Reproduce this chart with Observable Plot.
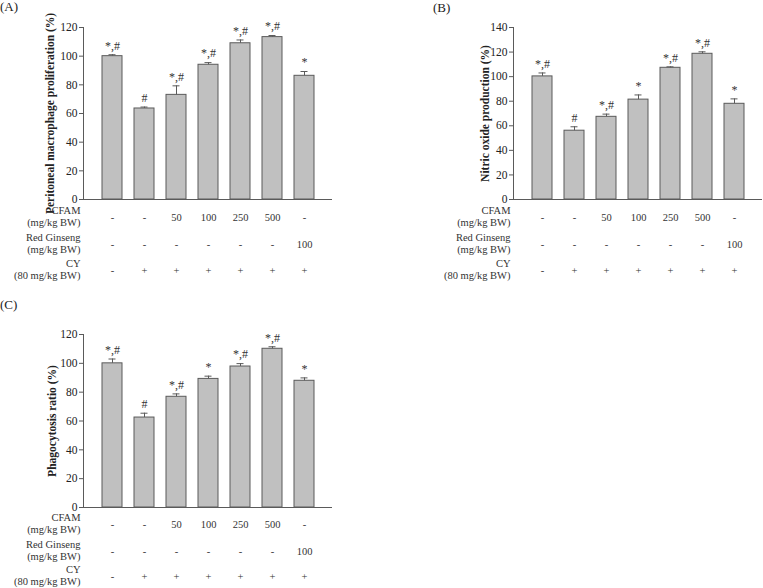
<!DOCTYPE html>
<html>
<head>
<meta charset="utf-8">
<script src="https://cdn.jsdelivr.net/npm/d3@7"></script>
<script src="https://cdn.jsdelivr.net/npm/@observablehq/plot@0.6"></script>
<style>
  body { margin: 0; background: #fff; }
  #root { position: relative; width: 763px; height: 588px; font-family: "Liberation Serif", "Times New Roman", serif; color: #222; }
  .panel { position: absolute; }
  .plabel { position: absolute; font-size: 13px; line-height: 13px; }
</style>
</head>
<body>
<div id="root">
  <div class="plabel" style="left:0px;top:0px;">(A)</div>
  <div class="plabel" style="left:433px;top:1px;">(B)</div>
  <div class="plabel" style="left:0px;top:298px;">(C)</div>
  <div class="panel" id="pA" style="left:0px;top:0px;"></div>
  <div class="panel" id="pB" style="left:380px;top:0px;"></div>
  <div class="panel" id="pC" style="left:0px;top:300px;"></div>
</div>
<script>
// ---- data ----
const groups = ["G1", "G2", "G3", "G4", "G5", "G6", "G7"];
const cfam = ["-", "-", "50", "100", "250", "500", "-"];
const ginseng = ["-", "-", "-", "-", "-", "-", "100"];
const cy = ["-", "+", "+", "+", "+", "+", "+"];

const valuesA = [100, 63.5, 73, 94, 109, 113.3, 86.3];
const errorsA = [1, 1, 6.3, 1.5, 2.3, 1.1, 3];
const sigA = ["*,#", "#", "*,#", "*,#", "*,#", "*,#", "*"];

const valuesB = [100.2, 56, 67.3, 81.3, 107.2, 118.6, 77.9];
const errorsB = [2.8, 3.2, 2.2, 3.8, 0.8, 1.6, 4];
const sigB = ["*,#", "#", "*,#", "*", "*,#", "*,#", "*"];

const valuesC = [100, 62.4, 76.8, 89.2, 97.8, 110.1, 87.9];
const errorsC = [3, 3, 2, 1.9, 2, 1.4, 2];
const sigC = ["*,#", "#", "*,#", "*", "*,#", "*,#", "*"];

const ticksA = [0, 20, 40, 60, 80, 100, 120];
const ticksB = [0, 20, 40, 60, 80, 100, 120, 140];
const ticksC = [0, 20, 40, 60, 80, 100, 120];

const titleA = "Peritoneal macrophage proliferation (%)";
const titleB = "Nitric oxide production (%)";
const titleC = "Phagocytosis ratio (%)";

const rowLabels = ["CFAM\n(mg/kg BW)", "Red Ginseng\n(mg/kg BW)", "CY\n(80 mg/kg BW)"];

// ---- drawing ----
function panel(values, errors, sig, ticks, title, opts) {
  const rows = groups.map((g, i) => ({g, v: values[i], e: errors[i], s: sig[i], c: cfam[i], r: ginseng[i], y: cy[i]}));
  const tableCols = ["c", "r", "y"];
  const marks = [
    Plot.barY(rows, {x: "g", y: "v", fill: "#c0c0c0", stroke: "#5a5a5a", strokeWidth: 1}),
    Plot.ruleX(rows, {x: "g", y1: "v", y2: d => d.v + d.e, stroke: "#5a5a5a"}),
    Plot.tickY(rows, {x: "g", y: d => d.v + d.e, insetLeft: 6.5, insetRight: 6.5, stroke: "#5a5a5a"}),
    Plot.text(rows, {x: "g", y: d => d.v + d.e, text: "s", dy: -9, fontSize: 12, fill: "#333"}),
    Plot.ruleY([0], {stroke: "#5a5a5a"}),
    Plot.axisY({ticks, tickSize: 4, tickPadding: 2, label: null, fontSize: 11.5, stroke: "#5a5a5a"}),
    Plot.frame({anchor: "left", stroke: "#5a5a5a"}),
    Plot.text([title], {frameAnchor: "left", rotate: -90, dx: opts.titleDx, textAnchor: "middle", lineAnchor: "middle", fontWeight: "bold", fontSize: 11.5, fill: "#222"})
  ];
  tableCols.forEach((col, k) => {
    marks.push(Plot.text(rows, {x: "g", text: col, frameAnchor: "bottom", lineAnchor: "middle", dy: opts.rowDy[k], fontSize: 10.5, fill: "#333"}));
    marks.push(Plot.text([rowLabels[k]], {frameAnchor: "bottom-left", textAnchor: "end", lineAnchor: "middle", dx: -3, dy: opts.labelDy[k], fontSize: 10.5, lineHeight: 1.1, fill: "#333"}));
  });
  return Plot.plot({
    width: opts.width,
    height: opts.height,
    marginLeft: opts.ml,
    marginRight: opts.mr,
    marginTop: opts.mt,
    marginBottom: opts.mb,
    x: {domain: groups, paddingInner: 0.39, paddingOuter: 0.57, axis: null},
    y: {domain: [0, ticks[ticks.length - 1]], axis: null},
    style: {fontFamily: "'Liberation Serif', 'Times New Roman', serif", fontSize: "11px", color: "#222", background: "transparent", overflow: "visible"},
    marks
  });
}

document.getElementById("pA").append(panel(valuesA, errorsA, sigA, ticksA, titleA,
  {width: 380, height: 290, ml: 83, mr: 48, mt: 27, mb: 91, titleDx: -33, rowDy: [18, 45, 71], labelDy: [17, 44, 70]}));
document.getElementById("pB").append(panel(valuesB, errorsB, sigB, ticksB, titleB,
  {width: 383, height: 290, ml: 133, mr: 1, mt: 27, mb: 91, titleDx: -28, rowDy: [18, 45, 71], labelDy: [17, 44, 70]}));
document.getElementById("pC").append(panel(valuesC, errorsC, sigC, ticksC, titleC,
  {width: 380, height: 288, ml: 83, mr: 48, mt: 34, mb: 81, titleDx: -31, rowDy: [17, 44, 69], labelDy: [16, 43, 68]}));
</script>
</body>
</html>
